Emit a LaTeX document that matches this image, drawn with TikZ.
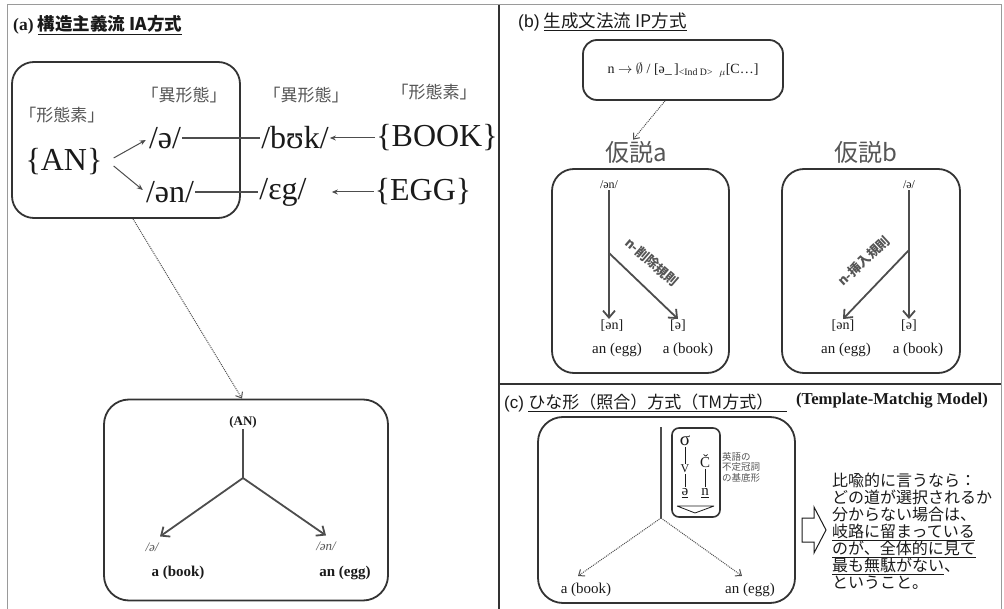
\documentclass[tikz,border=0pt]{standalone}
\usepackage{fontspec}
\setmainfont{Liberation Serif}
\setsansfont{Liberation Sans}
\newfontfamily\jp{Noto Sans CJK JP}
\usetikzlibrary{arrows.meta}
\definecolor{frame}{HTML}{333333}
\definecolor{ink}{HTML}{1A1A1A}
\definecolor{grayline}{HTML}{4D4D4D}
\definecolor{jpgray}{HTML}{555555}
\definecolor{border}{HTML}{9A9A9A}
\newcommand{\fsz}[1]{\fontsize{#1}{#1}\selectfont}
\begin{document}
\begin{tikzpicture}[x=1pt,y=-1pt,
  box/.style={draw=frame, line width=1.8pt, rounded corners=22pt, inner sep=0pt},
  lab/.style={inner sep=1pt, text=ink},
  big/.style={lab, font=\fsz{32}},
  jplab/.style={lab, text=jpgray, font=\jp\fsz{17}},
  small/.style={lab, font=\fsz{12}},
  mid/.style={lab, font=\fsz{15}},
  sarrow/.style={draw=grayline, line width=1pt, -{Stealth[length=6pt,width=5pt]}},
  plain/.style={draw=grayline, line width=1.2pt},
  barb/.style={draw=grayline, line width=1.8pt, -{Straight Barb[length=7pt,width=12pt,line width=1.8pt]}},
  dotarrow/.style={draw=grayline, densely dotted, line width=1pt, -{Straight Barb[length=5pt,width=8pt,line width=1pt]}}
]
\useasboundingbox (0,0) rectangle (1004,609);
% frame
\draw[border, line width=1pt] (7,609) -- (7,5) -- (1001,5) -- (1001,609);
\draw[frame, line width=1.8pt] (499,5) -- (499,609);
\draw[frame, line width=1.8pt] (499,384) -- (1001,384);

% ===== (a) =====
\node[lab, anchor=west, font=\bfseries\fsz{17.5}] (ta) at (12,25) {(a) {\jp\bfseries\underline{構造主義流 IA方式}}};
\node[box, minimum width=228pt, minimum height=156pt] (boxA) at (126,140) {};
\node[jplab] (km1) at (62,115) {「形態素」};
\node[big] (AN) at (64,162) {\{AN\}};
\node[jplab] (ik1) at (184,95) {「異形態」};
\node[big] (schwa) at (165,138) {/ə/};
\node[big] (schwan) at (170,192) {/ən/};
\node[jplab] (ik2) at (306,95) {「異形態」};
\node[big] (buk) at (295,138) {/bʊk/};
\node[big] (eg) at (283,192) {/ɛg/};
\node[jplab] (km2) at (434,92) {「形態素」};
\node[big] (BOOK) at (437,138) {\{BOOK\}};
\node[big] (EGG) at (423,192) {\{EGG\}};
\draw[sarrow] ([xshift=10pt,yshift=4pt]AN.east) -- ([xshift=-2pt,yshift=-2pt]schwa.west);
\draw[sarrow] ([xshift=10pt,yshift=-4pt]AN.east) -- ([xshift=-2pt,yshift=2pt]schwan.west);
\draw[plain] (schwa.east) -- (buk.west);
\draw[plain] (schwan.east) -- (eg.west);
\draw[sarrow] (BOOK.west) -- (buk.east);
\draw[sarrow] (EGG.west) -- ([xshift=24pt]eg.east);

\node[box, rounded corners=25pt, minimum width=284pt, minimum height=201pt] (boxB) at (246,500) {};
\draw[dotarrow] ([xshift=7pt]boxA.south) -- ([xshift=-4pt]boxB.north);
\node[lab, font=\bfseries\fsz{13}] (ANb) at (243,422) {(AN)};
\coordinate (jn) at (243,478);
\node[lab, text=jpgray, font=\itshape\fsz{13}] (schB) at (152,547) {/ə/};
\node[lab, text=jpgray, font=\itshape\fsz{13}] (schnB) at (326,546) {/ən/};
\node[lab, font=\bfseries\fsz{15}] (bookB) at (178,573) {a (book)};
\node[lab, font=\bfseries\fsz{15}] (eggB) at (345,573) {an (egg)};
\draw[draw=grayline, line width=1.8pt] (ANb.south) -- (jn);
\draw[barb] (jn) -- ([xshift=8pt,yshift=5pt]schB.north);
\draw[barb] (jn) -- ([yshift=5pt]schnB.north);

% ===== (b) =====
\node[lab, anchor=west, font=\fsz{17.5}] (tb) at (517,22) {{\sffamily (b)} {\jp\underline{生成文法流 IP方式}}};
\node[box, rounded corners=14pt, minimum width=200pt, minimum height=60pt] (rule) at (683,70) {};
\node[lab, font=\fsz{14}] (ruletxt) at (683,70) {n $\rightarrow$ $\emptyset$ / [ə\_\,]\textsubscript{<Ind D>}\;\,\textsubscript{$\mu$}[C\ldots]};
\node[lab, text=jpgray, font=\jp\fsz{24}] (kA) at (636,152) {仮説a};
\node[lab, text=jpgray, font=\jp\fsz{24}] (kB) at (866,152) {仮説b};
\draw[dotarrow] ([xshift=-18pt]rule.south) -- ([xshift=-3pt]kA.north);

\node[box, minimum width=177pt, minimum height=204pt] (bA) at (640.5,271) {};
\node[box, minimum width=178pt, minimum height=204pt] (bB) at (871,271) {};

\node[small] (topA) at (609,185) {/ən/};
\node[small, font=\fsz{14}] (anA) at (612,326) {[ən]};
\node[small, font=\fsz{14}] (schA) at (678,326) {[ə]};
\node[mid] (eggA) at (617,350) {an (egg)};
\node[mid] (bookA) at (688,350) {a (book)};
\coordinate (brA) at (609,253);
\draw[barb] (topA.south) -- (topA.south |- anA.north);
\draw[barb] (brA) -- (schA.north);
\node[lab, text=jpgray, rotate=-41, font=\jp\bfseries\fsz{13}] (rA) at (652,262) {n-削除規則};

\node[small] (topB) at (909,185) {/ə/};
\node[small, font=\fsz{14}] (anB) at (843,326) {[ən]};
\node[small, font=\fsz{14}] (schB2) at (909,326) {[ə]};
\node[mid] (eggBb) at (846,350) {an (egg)};
\node[mid] (bookBb) at (918,350) {a (book)};
\coordinate (brB) at (909,250);
\draw[barb] (topB.south) -- (topB.south |- schB2.north);
\draw[barb] (brB) -- (anB.north);
\node[lab, text=jpgray, rotate=43, font=\jp\bfseries\fsz{13}] (rB) at (864,261) {n-挿入規則};

% ===== (c) =====
\node[lab, anchor=west, font=\fsz{17}] (tc) at (503,403) {{\sffamily (c)} {\jp\underline{ひな形（照合）方式（TM方式）\hspace{14pt}}}};
\node[lab, font=\bfseries\fsz{16.7}] (tm) at (892,401) {(Template-Matchig Model)};
\node[box, rounded corners=25pt, minimum width=257pt, minimum height=186pt] (boxC) at (666.5,510) {};
\coordinate (vt) at (661,427);
\coordinate (vb) at (661,518);
\draw[draw=grayline, line width=1.8pt] (vt) -- (vb);
\node[mid] (bookC) at (586,590) {a (book)};
\node[mid] (eggC) at (750,590) {an (egg)};
\draw[dotarrow] (vb) -- ([xshift=-8pt,yshift=6pt]bookC.north);
\draw[dotarrow] (vb) -- ([xshift=-8pt,yshift=6pt]eggC.north);

\node[box, rounded corners=7pt, line width=1.6pt, minimum width=48pt, minimum height=89pt] (tpl) at (696,472.5) {};
\node[lab, inner sep=0pt, font=\fsz{19}] (sig) at (685,441) {σ};
\node[lab, inner sep=0pt, font=\fsz{12}] (V) at (685,469) {V};
\node[lab, inner sep=0pt, font=\fsz{15}] (sch) at (685,493) {\underline{ə}};
\node[lab, inner sep=0pt, font=\fsz{15}] (C) at (705,461) {Č};
\node[lab, inner sep=0pt, font=\fsz{15}] (nn) at (705,493) {\underline{n}};
\draw[ink, line width=0.8pt] ([yshift=-1pt]sig.south) -- ([yshift=1pt]V.north);
\draw[ink, line width=0.8pt] ([yshift=-1pt]V.south) -- ([yshift=1pt]sch.north);
\draw[ink, line width=0.8pt] ([yshift=-1pt]C.south) -- ([yshift=1pt]nn.north);
\draw[ink, line width=0.8pt] (677,506) -- (714,506) (677,506) -- (695,513) -- (714,506);
\node[lab, anchor=north west, align=left, text=jpgray, font=\jp\fontsize{9.5}{10.5}\selectfont] (kitei) at (721,451) {英語の\\不定冠詞\\の基底形};

\draw[ink, line width=1pt] (802,518) -- (814,518) -- (814,507) -- (826,530) -- (814,553) -- (814,542) -- (802,542) -- cycle;
\node[lab, anchor=north west, align=left, font=\jp\fontsize{16}{17}\selectfont] (say) at (831,472) {比喩的に言うなら：\\どの道が選択されるか\\分からない場合は、\\\underline{岐路に留まっている}\\\underline{のが、全体的に見て}\\\underline{最も無駄がない}、\\ということ。};
\end{tikzpicture}
\end{document}
